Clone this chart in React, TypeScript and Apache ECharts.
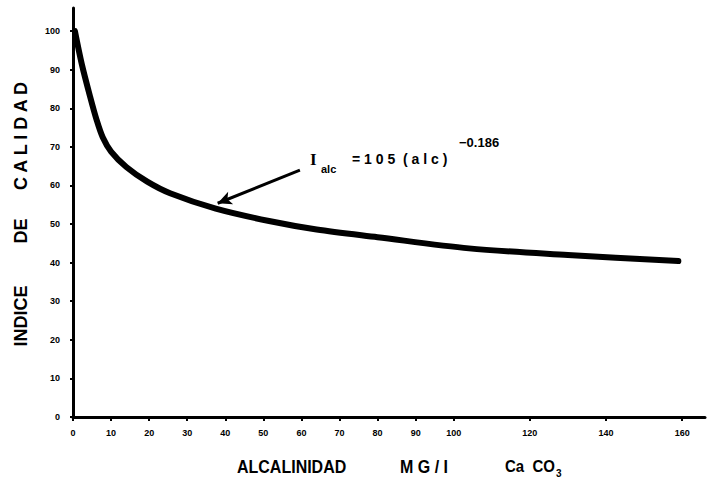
import React, { useEffect, useRef } from "react";
import * as echarts from "echarts";

const alkalinity = [0.5, 2.3, 4.5, 6.2, 7.8, 10, 14, 19.5, 25.5, 37.5, 51.5, 64, 80, 104, 130, 159];
const qualityIndex = [100, 91.5, 83, 77, 72.5, 68.8, 64.8, 61, 58, 54, 50.8, 48.6, 46.6, 43.7, 42, 40.4];
const xTickValues = [0, 10, 20, 30, 40, 50, 60, 70, 80, 90, 100, 120, 140, 160];
const yTickValues = [0, 10, 20, 30, 40, 50, 60, 70, 80, 90, 100];
const arrowFrom = [59.6, 64];
const arrowTo = [38, 55.4];

const FONT = "'Liberation Sans', Arial, sans-serif";

export default function App() {
  const ref = useRef<HTMLDivElement>(null);
  useEffect(() => {
    if (!ref.current) return;
    const chart = echarts.init(ref.current, null, { renderer: "svg" });
    const data = alkalinity.map((x, i) => [x, qualityIndex[i]]);
    chart.setOption({
      animation: false,
      backgroundColor: "#ffffff",
      grid: { left: 73, right: 7, top: 8, bottom: 64 },
      xAxis: {
        type: "value",
        min: 0,
        max: 166,
        interval: 10,
        splitLine: { show: false },
        axisLine: { onZero: false, lineStyle: { color: "#000", width: 3 } },
        axisTick: { show: true, length: 4, customValues: xTickValues, lineStyle: { color: "#000", width: 2 } },
        axisLabel: {
          customValues: xTickValues,
          margin: 11,
          color: "#000",
          fontSize: 9,
          fontWeight: "bold",
          fontFamily: FONT,
        },
      },
      yAxis: {
        type: "value",
        min: 0,
        max: 106,
        interval: 10,
        splitLine: { show: false },
        axisLine: { onZero: false, lineStyle: { color: "#000", width: 3 } },
        axisTick: { show: true, length: 3, customValues: yTickValues, lineStyle: { color: "#000", width: 2 } },
        axisLabel: {
          customValues: yTickValues,
          margin: 13,
          color: "#000",
          fontSize: 9,
          fontWeight: "bold",
          fontFamily: FONT,
        },
      },
      series: [
        {
          type: "line",
          data,
          smooth: 0.3,
          symbol: "none",
          lineStyle: { color: "#000", width: 6, cap: "round", join: "round" },
          markLine: {
            silent: true,
            symbol: ["none", "arrow"],
            symbolSize: [10, 14],
            label: { show: false },
            lineStyle: { color: "#000", width: 3, type: "solid" },
            data: [[{ coord: arrowFrom }, { coord: arrowTo }]],
          },
        },
      ],
      graphic: [
        { type: "text", x: 21, y: 136, rotation: Math.PI / 2, style: { text: "C A L I D A D", font: `bold 18px ${FONT}`, fill: "#000", align: "center", verticalAlign: "middle" } },
        { type: "text", x: 21, y: 231, rotation: Math.PI / 2, style: { text: "DE", font: `bold 18px ${FONT}`, fill: "#000", align: "center", verticalAlign: "middle" } },
        { type: "text", x: 21, y: 316, rotation: Math.PI / 2, style: { text: "INDICE", font: `bold 18px ${FONT}`, fill: "#000", align: "center", verticalAlign: "middle" } },
        { type: "text", x: 237, y: 457, scaleY: 1.15, style: { text: "ALCALINIDAD", font: `bold 16px ${FONT}`, fill: "#000", align: "left", verticalAlign: "top" } },
        { type: "text", x: 400, y: 457, scaleY: 1.15, style: { text: "M G / I", font: `bold 16px ${FONT}`, fill: "#000", align: "left", verticalAlign: "top" } },
        { type: "text", x: 505, y: 457, scaleY: 1.15, style: { text: "Ca  CO", font: `bold 15px ${FONT}`, fill: "#000", align: "left", verticalAlign: "top" } },
        { type: "text", x: 556, y: 468, style: { text: "3", font: `bold 10px ${FONT}`, fill: "#000", align: "left", verticalAlign: "top" } },
        { type: "text", x: 310, y: 151, style: { text: "I", font: `bold 17px 'Liberation Serif', serif`, fill: "#000", align: "left", verticalAlign: "top" } },
        { type: "text", x: 321, y: 163, style: { text: "alc", font: `bold 11px ${FONT}`, fill: "#000", align: "left", verticalAlign: "top" } },
        { type: "text", x: 352, y: 152, style: { text: "= 1 0 5  ( a l c )", font: `bold 14px ${FONT}`, fill: "#000", align: "left", verticalAlign: "top" } },
        { type: "text", x: 459, y: 136, style: { text: "−0.186", font: `bold 13px ${FONT}`, fill: "#000", align: "left", verticalAlign: "top" } },
      ],
    });
    return () => chart.dispose();
  }, []);
  return (
    <div
      ref={ref}
      style={{ position: "fixed", left: 0, top: 0, width: 712, height: 481, background: "#fff" }}
    />
  );
}
